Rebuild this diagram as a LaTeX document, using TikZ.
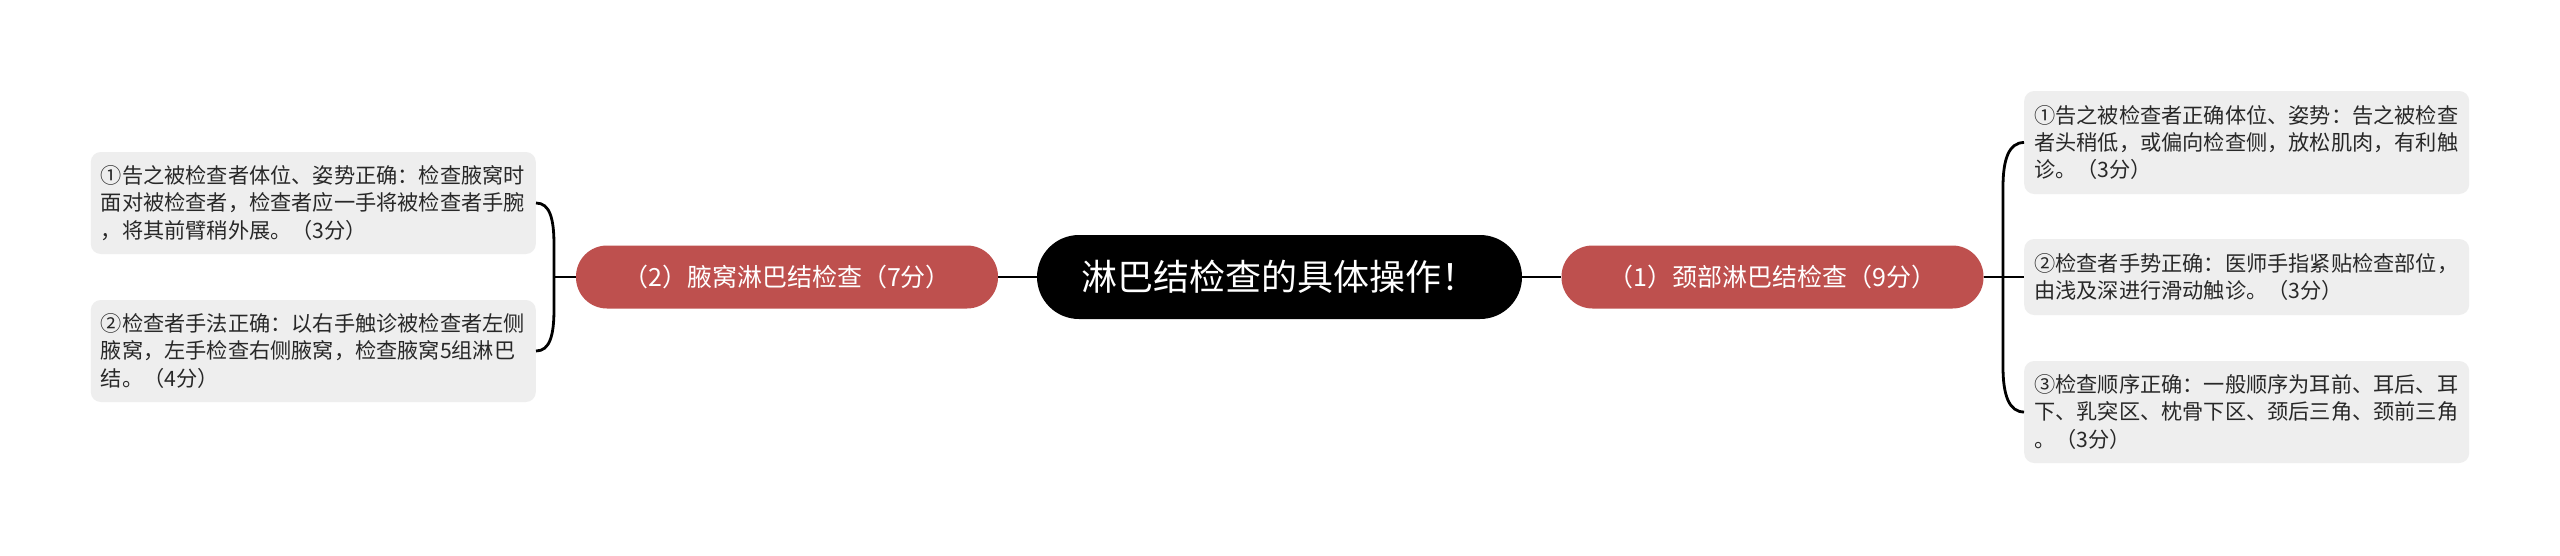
\documentclass[tikz,border=0pt]{standalone}
\usepackage{fontspec}
\setmainfont{Noto Sans CJK SC}
\definecolor{redfill}{RGB}{190,80,78}
\definecolor{boxfill}{RGB}{238,238,238}
\definecolor{txt}{RGB}{40,40,40}
\begin{document}
\begin{tikzpicture}[x=1pt,y=-1pt,
  leaf/.style={draw=none,fill=boxfill,rounded corners=10pt,inner xsep=10pt,inner ysep=0pt,
    text width=425pt,align=left,text=txt,font=\fontsize{21.2}{27.3}\selectfont},
  topic/.style={fill=redfill,text=white,rounded corners=31pt,minimum width=422pt,minimum height=63pt,
    inner sep=0pt,font=\fontsize{25}{30}\selectfont},
  rootnode/.style={fill=black,text=white,rounded corners=42pt,minimum width=485pt,minimum height=84pt,
    inner sep=0pt,font=\fontsize{36}{42}\selectfont},
  conn/.style={line width=2.8pt,draw=black}]
\useasboundingbox (0,0) rectangle (2560,555);
\fill[white] (0,0) rectangle (2560,555);

\node[rootnode] (root) at (1279.5,277) {淋巴结检查的具体操作！};
\node[topic] (t1) at (1772.5,277) {（1）颈部淋巴结检查（9分）};
\node[topic] (t2) at (787,277) {（2）腋窝淋巴结检查（7分）};

\node[leaf,minimum height=103pt,anchor=west] (r1) at (2024,142.5) {①告之被检查者正确体位、姿势：告之被检查\\者头稍低，或偏向检查侧，放松肌肉，有利触\\诊。（3分）};
\node[leaf,minimum height=76pt,anchor=west] (r2) at (2024,277) {②检查者手势正确：医师手指紧贴检查部位，\\由浅及深进行滑动触诊。（3分）};
\node[leaf,minimum height=102pt,anchor=west] (r3) at (2024,412) {③检查顺序正确：一般顺序为耳前、耳后、耳\\下、乳突区、枕骨下区、颈后三角、颈前三角\\。（3分）};

\node[leaf,minimum height=102pt,anchor=east] (l1) at (536,203) {①告之被检查者体位、姿势正确：检查腋窝时\\面对被检查者，检查者应一手将被检查者手腕\\，将其前臂稍外展。（3分）};
\node[leaf,minimum height=102pt,anchor=east] (l2) at (536,351) {②检查者手法正确：以右手触诊被检查者左侧\\腋窝，左手检查右侧腋窝，检查腋窝5组淋巴\\结。（4分）};

\coordinate (rt) at (2003,187);
\coordinate (rb) at (2003,367);
\coordinate (lt) at (554,245);
\coordinate (lb) at (554,309);
\coordinate (jl) at (554,277);

\draw[conn] (root.east) -- (t1.west);
\draw[conn] (t2.east) -- (root.west);
\draw[conn] (t1.east) -- (r2.west);
\draw[conn] (r1.west) .. controls +(-15,0) and +(0,-28) .. (rt) -- (rb) .. controls +(0,28) and +(-15,0) .. (r3.west);
\draw[conn] (t2.west) -- (jl);
\draw[conn] (l1.east) .. controls +(14,0) and +(0,-26) .. (lt) -- (lb) .. controls +(0,26) and +(14,0) .. (l2.east);
\end{tikzpicture}
\end{document}
